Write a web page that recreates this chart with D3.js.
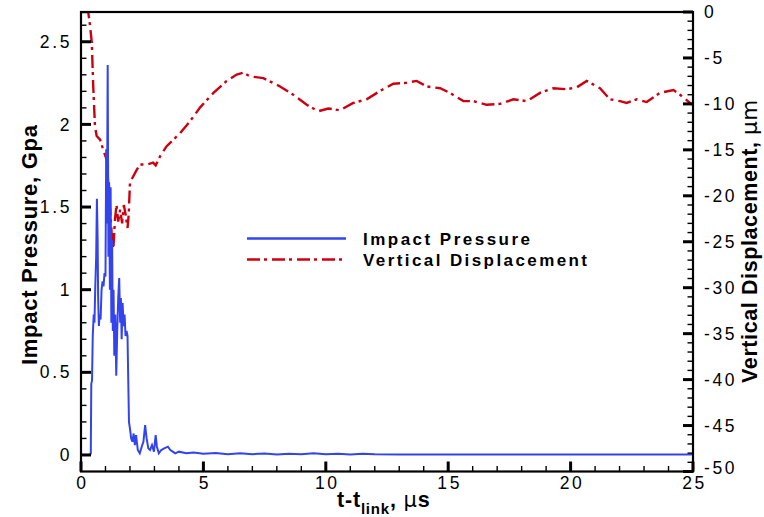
<!DOCTYPE html>
<html><head><meta charset="utf-8">
<script src="https://cdn.jsdelivr.net/npm/d3@7"></script>
<style>
body{margin:0;background:#fff;}
svg{display:block;font-family:"Liberation Sans",Arial,sans-serif;}
</style></head>
<body><svg id="chart" width="764" height="517"></svg>
<script>
// ---- data ----
const pressureTime = [0,0.35,0.40,0.42,0.45,0.48,0.52,0.55,0.58,0.62,0.65,0.68,0.70,0.73,0.76,0.80,0.84,0.88,0.92,0.96,1.00,1.03,1.06,1.09,1.12,1.15,1.18,1.21,1.24,1.27,1.30,1.33,1.36,1.40,1.44,1.48,1.52,1.56,1.60,1.63,1.66,1.70,1.74,1.78,1.82,1.86,1.90,1.93,1.96,2.00,2.05,2.10,2.15,2.20,2.25,2.32,2.40,2.48,2.55,2.62,2.68,2.75,2.82,2.90,2.98,3.05,3.10,3.18,3.28,3.40,3.55,3.65,3.75,3.85,4.0,4.3,4.6,5.0,5.5,6.0,6.5,7.0,7.5,8.0,8.5,9.0,9.5,10.0,10.5,11.0,11.5,12.0,13.0,15.0,18.0,21.0,25.0];
const pressureValues = [0,0,0.01,0.43,0.45,0.72,0.85,0.80,1.00,1.20,1.55,1.30,0.95,0.78,0.85,0.82,1.00,1.05,1.02,1.10,1.08,1.85,1.40,2.36,1.20,1.65,1.00,1.62,0.80,1.30,0.75,1.00,0.60,0.85,0.48,0.75,0.95,1.07,0.80,0.95,0.70,0.92,0.78,0.85,0.72,0.75,0.72,0.45,0.20,0.16,0.10,0.08,0.13,0.06,0.12,0.03,0.01,0.05,0.08,0.18,0.10,0.04,0.03,0.06,0.02,0.12,0.05,0.01,0.03,0.04,0.05,0.03,0.02,0.01,0.02,0.01,0.015,0.008,0.012,0.004,0.010,0.005,0.009,0.003,0.008,0.004,0.011,0.004,0.008,0.003,0.007,0.004,0.003,0.003,0.003,0.003,0.003];

const dispTime = [0,0.25,0.30,0.37,0.44,0.50,0.57,0.64,0.78,0.91,1.05,1.12,1.18,1.25,1.32,1.39,1.45,1.52,1.60,1.68,1.75,1.82,1.90,1.95,2.00,2.07,2.27,2.41,2.68,2.95,3.05,3.23,3.50,3.77,4.04,4.45,4.86,5.41,5.95,6.36,6.63,6.90,7.45,8.13,8.67,9.22,9.69,10.10,10.58,11.12,11.67,12.21,12.76,13.30,13.71,14.12,14.67,15.07,15.62,16.03,16.57,17.12,17.66,18.21,18.75,19.29,19.84,20.25,20.66,21.20,21.61,22.02,22.29,22.70,23.11,23.65,24.20,24.47,24.88,25.0];
const dispValues = [0,0,-0.1,-1.5,-3.3,-8.1,-12.4,-13.5,-13.9,-15.0,-16.1,-19.0,-21.2,-24.0,-25.8,-22.5,-21.0,-22.8,-21.5,-23.0,-21.0,-22.0,-23.5,-22.0,-18.6,-18.2,-17.2,-16.6,-16.6,-16.4,-16.7,-15.7,-14.6,-13.9,-13.2,-11.9,-10.4,-8.8,-7.5,-6.8,-6.6,-7.0,-7.2,-8.1,-9.0,-10.1,-10.8,-10.5,-10.7,-9.9,-9.5,-8.6,-7.8,-7.7,-7.5,-8.1,-8.3,-8.8,-9.7,-9.7,-10.1,-10.0,-9.5,-9.7,-8.8,-8.3,-8.4,-8.2,-7.5,-8.3,-9.5,-9.7,-9.9,-9.5,-9.8,-8.8,-8.5,-9.0,-9.9,-10.1];

const xTicks = [0,5,10,15,20,25];
const yLeftTicks = [0,0.5,1,1.5,2,2.5];
const yRightTicks = [0,-5,-10,-15,-20,-25,-30,-35,-40,-45,-50];
const seriesNames = ["Impact Pressure","Vertical Displacement"];

// ---- layout ----
const svg = d3.select("#chart");
const L = 81, R = 693, T = 12, B = 471.5;
const x = d3.scaleLinear().domain([0,25]).range([L,R]);
const yL = d3.scaleLinear().domain([-0.1,2.68]).range([B,T]);
const yR = d3.scaleLinear().domain([-50,0]).range([B,T]);
const blue = "#3344ee", red = "#cc0011";
const dashPat = "13,4,3,5";

// curves
const pData = pressureTime.map((t,i)=>[t,pressureValues[i]]);
const dData = dispTime.map((t,i)=>[t,dispValues[i]]);
svg.append("defs").append("clipPath").attr("id","clip")
  .append("rect").attr("x",L).attr("y",T).attr("width",R-L).attr("height",B-T);
const g = svg.append("g").attr("clip-path","url(#clip)");
g.append("path").datum(dData)
  .attr("d",d3.line().x(d=>x(d[0])).y(d=>yR(d[1])))
  .attr("fill","none").attr("stroke",red).attr("stroke-width",2.4)
  .attr("stroke-dasharray",dashPat);
g.append("path").datum(pData)
  .attr("d",d3.line().x(d=>x(d[0])).y(d=>yL(d[1])))
  .attr("fill","none").attr("stroke",blue).attr("stroke-width",2);

// ticks (inward), drawn from the scales
const tk = svg.append("g");
const xMinor = d3.range(0,26,1), lMinor = d3.range(0,27).map(i=>i/10), rMinor = d3.range(-50,1,1);
xMinor.forEach(v=>{const M = v%5===0, w = M?3:1.4, len = M?10:5.5;
  tk.append("rect").attr("x",x(v)-w/2).attr("y",B-len).attr("width",w).attr("height",len).attr("fill","#000");});
lMinor.forEach(v=>{const M = Math.abs(v*2-Math.round(v*2))<1e-9, w = M?3:1.4, len = M?10:5.5;
  tk.append("rect").attr("x",L).attr("y",yL(v)-w/2).attr("width",len).attr("height",w).attr("fill","#000");});
rMinor.forEach(v=>{const M = v%5===0, w = M?3:1.4, len = M?10:5.5;
  tk.append("rect").attr("x",R-len).attr("y",yR(v)-w/2).attr("width",len).attr("height",w).attr("fill","#000");});

// tick labels via axes
function styleAxis(sel){
  sel.select(".domain").remove();
  sel.selectAll(".tick line").remove();
  sel.selectAll("text").attr("font-size",17.5).attr("fill","#000").attr("letter-spacing","2.6px")
     .attr("font-family","'Liberation Sans',Arial,sans-serif");
}
svg.append("g").attr("transform",`translate(1,${B})`)
  .call(d3.axisBottom(x).tickValues(xTicks).tickSize(0).tickPadding(5).tickFormat(d3.format("d")))
  .call(styleAxis);
svg.append("g").attr("transform",`translate(${L+2},0)`)
  .call(d3.axisLeft(yL).tickValues(yLeftTicks).tickSize(0).tickPadding(11).tickFormat(d=>String(d)))
  .call(styleAxis);
const rAx = svg.append("g").attr("transform",`translate(${R},0)`)
  .call(d3.axisRight(yR).tickValues(yRightTicks).tickSize(0).tickPadding(11).tickFormat(d=>d===0?"0":"-"+Math.abs(d)))
  .call(styleAxis);
rAx.selectAll(".tick").filter(d=>d===-50).select("text").attr("dy","0.1em");

// frame
svg.append("rect").attr("x",L).attr("y",T).attr("width",R-L).attr("height",B-T)
  .attr("fill","none").attr("stroke","#000").attr("stroke-width",2.2);

// axis titles
const xt = svg.append("text").attr("x",337).attr("y",507)
  .attr("font-size",21.5).attr("font-weight","bold").attr("fill","#000").attr("letter-spacing","0.8px");
xt.append("tspan").text("t-t");
xt.append("tspan").attr("font-size",15).attr("dy",7).text("link");
xt.append("tspan").attr("dy",-7).text(", ");
xt.append("tspan").attr("font-weight","normal").attr("font-family","'DejaVu Sans',sans-serif").attr("font-size",21).text("\u03bc");
xt.append("tspan").text("s");

svg.append("text").attr("transform","translate(37,245) rotate(-90)")
  .attr("text-anchor","middle").attr("font-size",22).attr("font-weight","bold").attr("fill","#000")
  .attr("textLength",240).attr("lengthAdjust","spacing")
  .text("Impact Pressure, Gpa");

const rt = svg.append("text").attr("transform","translate(757,241) rotate(-90)")
  .attr("text-anchor","middle").attr("font-size",21.5).attr("font-weight","bold").attr("fill","#000")
  .attr("letter-spacing","0.6px");
rt.append("tspan").text("Vertical Displacement, ");
rt.append("tspan").attr("font-weight","normal").attr("font-family","'DejaVu Sans',sans-serif").text("\u03bcm");

// legend
const leg = svg.append("g");
const legColors = [blue, red], legDash = [null,dashPat], legLen = [167,224];
seriesNames.forEach((n,i)=>{
  const yy = 238.5 + i*21;
  leg.append("line").attr("x1",247).attr("x2",346).attr("y1",yy).attr("y2",yy)
    .attr("stroke",legColors[i]).attr("stroke-width",2.4).attr("stroke-dasharray",legDash[i]);
  leg.append("text").attr("x",363).attr("y",yy+6).attr("font-size",17).attr("font-weight","bold")
    .attr("fill","#000").attr("textLength",legLen[i]).attr("lengthAdjust","spacing").text(n);
});
</script></body></html>
